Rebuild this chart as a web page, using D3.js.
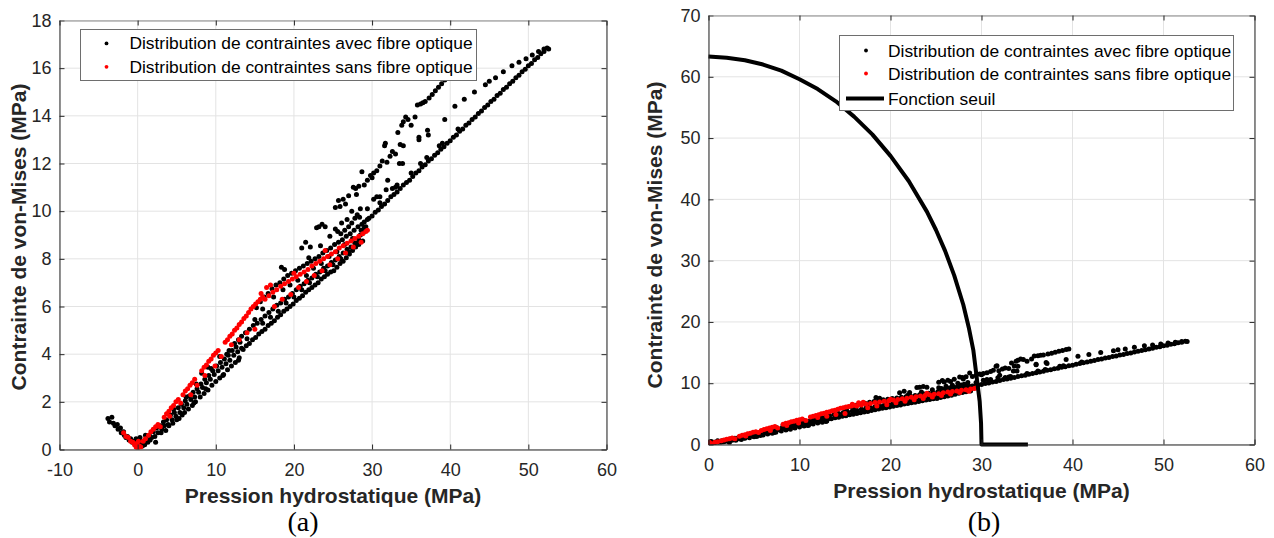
<!DOCTYPE html>
<html><head><meta charset="utf-8">
<script src="https://cdn.jsdelivr.net/npm/d3@7"></script>
<style>body{margin:0;background:#fff} svg{display:block}</style>
</head><body><svg id="c" width="1274" height="538"></svg>
<script>
// ---- DATA ----
const avecFibre = [
[-3.8,1.3],[-3.3,1.35],[-3.6,1.15],[-3.1,1.1],[-2.9,1.0],[-2.6,1.05],[-2.5,0.85],[-2.2,0.9],[-2.1,0.7],[-1.8,0.75],[-1.7,0.6],[-1.5,0.5],[-1.3,0.55],[-1.1,0.4],[-0.9,0.45],[-0.7,0.3],[-0.5,0.35],[-0.3,0.2],[-0.1,0.25],[0.1,0.15],[0.3,0.5],[0.5,0.35],[0.2,0.4],[-0.2,0.45],[0.6,0.15],
[0.4,0.2],[0.7,0.35],[0.9,0.2],[1.1,0.45],[1.3,0.3],[1.5,0.6],[1.8,0.5],[2.0,0.75],[2.3,0.3],[2.4,0.9],[2.6,0.7],[2.9,1.0],[3.1,0.85],[3.3,1.15],[3.6,0.8],[3.7,1.25],[3.9,1.05],[4.2,1.45],[4.4,1.25],[4.7,1.55],[4.9,1.4],[5.2,1.75],[5.4,1.55],[5.6,1.9],[5.9,1.75],[6.1,2.05],[6.3,1.9],[6.6,2.25],[6.8,2.1],[7.1,2.4],[7.3,2.2],[7.6,2.55],[7.8,2.4],[8.1,2.75],[8.3,2.6],[8.6,2.95],[8.8,2.8],[9.1,3.1],[9.3,2.95],[9.6,3.3],[9.8,3.15],[10.1,3.5],[10.3,3.3],[10.6,3.65],[10.8,3.45],[11.1,3.8],[11.3,3.6],[11.6,3.95],[11.8,3.75],[12.1,4.15],[12.3,3.95],[12.6,4.3],[12.8,4.1],[13.1,4.5],[13.3,4.25],
[8.2,3.2],[9.0,3.45],[10.5,3.9],[11.7,4.15],[12.4,4.45],[5.3,1.3],[7.4,2.0],
[3.0,0.7],[4.0,1.0],[5.0,1.25],[6.0,1.55],[7.0,1.85],[8.0,2.2],[9.0,2.5],[10.0,2.85],[11.0,3.15],[12.0,3.5],[13.0,3.85],[6.5,1.7],[8.5,2.35],[10.5,3.0],[12.5,3.65],
[1.0,0.6],[1.6,0.4],[2.2,0.55],[2.7,0.95],[3.4,1.0],[4.5,1.1],[4.6,1.7],[5.7,1.45],[6.2,2.2],[7.2,1.95],[7.5,2.75],[8.7,2.55],[9.5,2.7],[9.4,3.4],[10.9,3.1],[11.4,4.0],[11.5,3.35],[12.9,3.75],[12.9,4.6],
[13.5,4.2],[13.9,4.35],[14.3,4.45],[14.7,4.6],[15.1,4.7],[15.5,4.85],[15.9,4.95],[16.3,5.05],[16.7,5.2],[17.1,5.3],[17.5,5.4],[17.9,5.55],[18.3,5.65],[18.7,5.8],[19.1,5.9],[19.5,6.0],[19.9,6.1],[20.3,6.25],[20.7,6.35],[21.1,6.45],[21.5,6.6],[21.9,6.7],[22.3,6.8],[22.7,6.9],[23.1,7.0],[23.5,7.15],[23.9,7.25],[24.3,7.35],[24.7,7.45],[25.1,7.5],[25.5,7.65],[25.9,7.8],[26.3,7.9],[26.7,8.05],[27.1,8.2],[27.5,8.35],[27.9,8.5],[28.3,8.6],
[13.3,4.75],[13.8,4.9],[14.3,5.05],[14.8,5.2],[15.3,5.3],[15.8,5.45],[16.3,5.6],[16.8,5.75],[17.3,5.9],[17.8,6.05],[18.3,6.15],[18.8,6.3],[19.3,6.4],[19.8,6.55],[20.3,6.7],[20.8,6.85],[21.3,6.95],[21.8,7.1],[22.3,7.2],[22.8,7.35],[23.3,7.45],[23.8,7.6],[24.3,7.7],[24.8,7.85],[25.3,7.95],[25.8,8.1],[26.3,8.25],[26.8,8.4],[27.3,8.5],[27.8,8.65],[28.3,8.8],
[15.2,5.95],[15.7,6.2],[16.2,6.4],[16.7,6.55],[17.2,6.75],[17.7,6.9],[18.2,7.0],[18.7,7.15],[19.2,7.3],[19.7,7.4],[20.2,7.5],[20.7,7.6],[21.2,7.7],[21.7,7.8],[22.2,7.9],[22.7,8.0],[23.2,8.1],[23.7,8.25],[24.2,8.35],[24.7,8.45],[25.2,8.6],[25.7,8.7],[26.2,8.8],[26.7,8.95],[27.2,9.05],[27.7,9.2],[28.2,9.35],[28.7,9.45],[29.0,9.55],
[14.0,4.65],[15.0,5.45],[16.0,5.3],[16.0,5.9],[17.0,5.55],[17.4,6.4],[18.0,5.8],[18.6,6.7],[19.0,6.15],[19.5,6.9],[20.0,6.4],[20.5,7.1],[21.0,6.7],[21.6,7.3],[22.0,7.0],[22.5,7.6],[23.0,7.25],[23.5,7.8],[24.0,7.5],[24.5,8.1],[25.0,7.75],[25.5,8.3],[26.0,8.0],[26.5,8.6],[27.0,8.3],[27.5,8.85],[28.0,8.65],[28.5,9.0],[29.0,9.3],[28.8,8.75],
[27.4,9.5],[27.8,9.7],[28.1,9.85],[28.4,9.75],[28.6,9.2],[28.9,9.1],[29.2,9.35],[29.4,9.65],[27.0,9.35],[26.5,9.2],[26.0,9.05],[25.6,9.15],
[18.4,7.65],[18.8,7.55],[21.0,8.45],[21.5,8.7],[21.9,8.05],[22.1,8.5],[22.9,9.3],[23.2,9.35],[23.6,9.45],[24.0,9.35],[23.4,8.55],[24.6,8.95],[25.3,9.25],[26.1,9.5],[26.8,9.65],
[25.3,10.15],[25.7,10.45],[25.9,10.2],[26.3,10.5],[26.6,10.3],[27.0,10.65],[27.4,10.0],[27.9,10.95],[28.3,11.05],[28.5,10.1],[28.7,11.65],[29.0,11.1],[29.4,11.3],[29.4,10.1],[29.8,11.5],[30.2,10.5],[30.2,11.6],[30.6,11.7],[30.6,10.6],[31.0,10.6],[31.0,11.9],[31.3,12.1],[31.6,12.75],[31.7,12.85],[31.8,10.9],[31.9,12.05],[32.3,12.3],[32.6,10.95],[32.6,12.5],[33.0,12.4],[33.2,11.1],[33.5,12.0],[33.6,12.8],[33.9,12.0],[34.0,12.75],[33.3,13.3],[33.8,13.6],[34.0,13.75],[34.3,13.95],[34.6,13.85],[35.0,13.6],[35.5,13.95],[35.8,14.45],[36.0,13.0],[36.2,14.5],[36.5,14.55],[36.8,14.6],[37.2,13.2],[37.3,14.75],[37.7,14.9],[38.1,15.05],[38.5,15.2],[38.9,15.35],[39.3,15.5],[39.6,15.6],[32.0,11.3],[30.0,11.4],[28.0,10.7],[27.6,11.0],
[29.6,9.7],[30.0,9.8],[30.4,9.95],[30.8,10.05],[31.2,10.2],[31.6,10.3],[32.0,10.45],[32.4,10.6],[32.8,10.7],[33.2,10.8],[33.6,10.95],[34.0,11.1],[34.4,11.2],[34.8,11.3],[35.2,11.45],[35.6,11.6],[36.0,11.7],[36.4,11.85],[36.8,11.95],[37.2,12.1],[37.6,12.2],[38.0,12.35],[38.4,12.45],[38.8,12.6],[39.2,12.7],[39.6,12.85],[40.0,12.95],[40.4,13.1],[40.8,13.2],[41.2,13.35],[41.6,13.45],[42.0,13.6],[42.4,13.7],[42.8,13.85],[43.2,13.95],[43.6,14.1],[44.0,14.2],[44.4,14.35],[44.8,14.45],[45.2,14.6],[45.6,14.7],[46.0,14.85],[46.4,14.95],[46.8,15.1],[47.2,15.2],[47.6,15.35],[48.0,15.45],[48.4,15.6],[48.8,15.7],[49.2,15.85],[49.6,15.95],[50.0,16.1],[50.4,16.2],[50.8,16.35],[51.2,16.45],[51.6,16.6],[52.0,16.7],[52.4,16.85],[52.6,16.8],
[31.0,10.35],[33.0,11.0],[35.0,11.6],[37.0,12.25],[39.0,12.85],[41.0,13.45],[36.2,12.0],[38.6,12.75],
[39.3,13.85],[40.6,14.4],[41.8,14.7],[43.1,15.0],[44.5,15.3],[45.0,15.45],[45.8,15.6],[46.8,15.85],[47.9,16.1],[48.8,16.25],[49.7,16.4],[50.5,16.55],[51.3,16.7],[52.0,16.8],[37.1,13.4],[36.0,13.1]
];
const sansFibre = [
[-1.8,0.7],[-1.5,0.55],[-1.2,0.5],[-0.9,0.35],[-0.6,0.3],[-0.4,0.2],[-0.2,0.1],[0.0,0.05],[0.2,0.15],[0.4,0.1],[0.1,0.35],[-0.1,0.25],
[0.7,0.35],[1.0,0.45],[1.4,0.6],[1.7,0.75],[2.0,0.85],[2.3,0.95],[2.6,1.05],[3.4,1.35],[3.7,1.5],[4.0,1.6],[4.3,1.75],[4.6,1.85],[4.9,2.0],[5.2,2.1],[5.8,2.3],[6.1,2.45],[6.4,2.55],[6.7,2.7],[7.0,2.8],[7.3,2.95],[8.2,3.3],[8.5,3.45],[8.8,3.55],[9.1,3.7],[9.4,3.8],[9.7,3.95],[10.0,4.05],[10.3,4.15],[11.2,4.5],[11.5,4.6],[11.8,4.75],[12.1,4.85],[12.4,5.0],[12.7,5.1],[13.0,5.25],[13.3,5.35],[13.6,5.5],[13.9,5.6],[14.2,5.75],[14.5,5.9],[14.8,6.0],[15.1,6.1],[15.4,6.2],[15.7,6.3],[16.0,6.4],
[2.9,0.95],[5.5,1.95],[7.6,2.7],[9.9,3.5],[10.7,3.9],[12.0,4.4],[13.0,4.6],[14.0,4.9],[15.0,5.05],[6.8,2.3],[4.1,1.4],[8.6,3.1],
[16.3,6.3],[16.8,6.45],[17.3,6.6],[17.8,6.7],[18.3,6.85],[18.8,6.95],[19.3,7.05],[19.8,7.15],[20.3,7.25],[20.8,7.35],[21.3,7.45],[21.8,7.55],[22.3,7.7],[22.8,7.8],[23.3,7.9],[23.8,8.0],[24.3,8.1],[24.8,8.2],[25.3,8.3],[25.8,8.45],[26.3,8.55],[26.8,8.65],[27.3,8.75],[27.8,8.85],[28.3,8.95],[28.8,9.05],[29.2,9.15],[29.4,9.2],
[17.5,6.0],[18.5,6.3],[19.6,6.5],[20.6,6.8],[21.6,7.05],[22.6,7.3],[23.6,7.5],[24.6,7.75],[25.6,8.0],[26.6,8.25],[27.6,8.5],[28.6,8.7],[17.0,6.9],[15.8,6.55],[16.5,6.8],[20.0,7.4],[24.0,8.35]
];
const seuilX = [0,2,4,6,8,10,12,14,16,18,20,22,24,25,26,27,28,28.6,29.1,29.5,29.8,29.95,30.0,35.1];
const seuilY = [63.3,63.1,62.7,62.0,61.0,59.6,58.0,56.0,53.5,50.6,47.1,43.0,38.0,35.0,31.6,27.6,22.8,19.1,15.4,10.6,7.0,3.5,0,0];
const legendLabels = ["Distribution de contraintes avec fibre optique","Distribution de contraintes sans fibre optique","Fonction seuil"];
const xTicksA = [-10,0,10,20,30,40,50,60];
const yTicksA = [0,2,4,6,8,10,12,14,16,18];
const xTicksB = [0,10,20,30,40,50,60];
const yTicksB = [0,10,20,30,40,50,60,70];
const xTitle = "Pression hydrostatique (MPa)";
const yTitle = "Contrainte de von-Mises (MPa)";
const captions = ["(a)","(b)"];

// ---- DRAW ----
const FONT = '"Liberation Sans", Arial, Helvetica, sans-serif';
const svg = d3.select('#c');
svg.append('rect').attr('width',1274).attr('height',538).attr('fill','#fff');
const defs = svg.append('defs');

function panel(o){
  const x = d3.scaleLinear().domain(o.xDomain).range([o.left,o.right]);
  const y = d3.scaleLinear().domain(o.yDomain).range([o.bottom,o.top]);
  const g = svg.append('g');
  g.append('g').selectAll('line').data(o.xTicks).join('line')
    .attr('x1',d=>x(d)).attr('x2',d=>x(d)).attr('y1',o.top).attr('y2',o.bottom)
    .attr('stroke','#e3e3e3').attr('stroke-width',1);
  g.append('g').selectAll('line').data(o.yTicks).join('line')
    .attr('y1',d=>y(d)).attr('y2',d=>y(d)).attr('x1',o.left).attr('x2',o.right)
    .attr('stroke','#e3e3e3').attr('stroke-width',1);
  defs.append('clipPath').attr('id','clip'+o.id).append('rect')
    .attr('x',o.left).attr('y',o.top).attr('width',o.right-o.left).attr('height',o.bottom-o.top);
  const pts = g.append('g').attr('clip-path',`url(#clip${o.id})`);
  pts.append('g').selectAll('circle').data(avecFibre).join('circle')
    .attr('cx',d=>x(d[0])).attr('cy',d=>y(d[1])).attr('r',2.5).attr('fill','#000');
  pts.append('g').selectAll('circle').data(sansFibre).join('circle')
    .attr('cx',d=>x(d[0])).attr('cy',d=>y(d[1])).attr('r',2.5).attr('fill','#ff0000');
  if(o.seuil){
    g.append('path').datum(d3.range(seuilX.length))
      .attr('d', d3.line().x(i=>x(seuilX[i])).y(i=>y(seuilY[i])))
      .attr('fill','none').attr('stroke','#000').attr('stroke-width',4).attr('stroke-linejoin','round');
  }
  const col = '#262626';
  const styleAxis = sel => { sel.attr('font-family',FONT).attr('font-size',18).attr('color',col);
    sel.select('.domain').attr('stroke',col); };
  const bx = g.append('g').attr('transform',`translate(0,${o.bottom})`)
    .call(d3.axisBottom(x).tickValues(o.xTicks).tickSize(-5).tickSizeOuter(0).tickFormat(d=>String(d)));
  styleAxis(bx); bx.selectAll('text').attr('y',26.5).attr('dy',0);
  const ly = g.append('g').attr('transform',`translate(${o.left},0)`)
    .call(d3.axisLeft(y).tickValues(o.yTicks).tickSize(-5).tickSizeOuter(0).tickPadding(8).tickFormat(d=>String(d)));
  styleAxis(ly);
  const tx = g.append('g').attr('transform',`translate(0,${o.top})`)
    .call(d3.axisTop(x).tickValues(o.xTicks).tickSize(-5).tickSizeOuter(0).tickFormat(''));
  styleAxis(tx); tx.select('.domain').attr('stroke','#8a8a8a');
  const ry = g.append('g').attr('transform',`translate(${o.right},0)`)
    .call(d3.axisRight(y).tickValues(o.yTicks).tickSize(-5).tickSizeOuter(0).tickFormat(''));
  styleAxis(ry);
  g.append('text').attr('x',(o.left+o.right)/2).attr('y',o.bottom+53).attr('text-anchor','middle')
    .attr('font-family',FONT).attr('font-weight','bold').attr('font-size',21).attr('fill',col).text(xTitle);
  g.append('text').attr('transform',`translate(${o.ylabX},${o.ylabY}) rotate(-90)`)
    .attr('text-anchor','middle').attr('dominant-baseline','central')
    .attr('font-family',FONT).attr('font-weight','bold').attr('font-size',21).attr('fill',col).text(yTitle);
  const L = o.legend;
  const lg = g.append('g');
  lg.append('rect').attr('x',L.x).attr('y',L.y).attr('width',L.w).attr('height',L.h)
    .attr('fill','#fff').attr('stroke','#6e6e6e').attr('stroke-width',1);
  const n = o.seuil ? 3 : 2;
  const colors = ['#000','#ff0000'];
  for(let i=0;i<n;i++){
    const cy = L.rows[i];
    if(i<2) lg.append('circle').attr('cx',L.mx).attr('cy',cy).attr('r',1.9).attr('fill',colors[i]);
    else lg.append('line').attr('x1',L.lx1).attr('x2',L.lx2).attr('y1',cy).attr('y2',cy).attr('stroke','#000').attr('stroke-width',4);
    lg.append('text').attr('x',L.tx).attr('y',cy).attr('dominant-baseline','central')
      .attr('font-family',FONT).attr('font-size',17.4).attr('fill','#000').text(legendLabels[i]);
  }
  svg.append('text').attr('x',o.capX).attr('y',o.capY).attr('text-anchor','middle')
    .attr('font-family','"Liberation Serif", "Times New Roman", serif').attr('font-size',28).attr('fill','#000').text(o.caption);
}

panel({id:'a', xDomain:[-10,60], yDomain:[0,18], left:59.5, right:606.5, top:20.5, bottom:449.5,
  xTicks:xTicksA, yTicks:yTicksA, seuil:false, ylabX:18, ylabY:237,
  legend:{x:80.5,y:29.5,w:396,h:51,rows:[43.4,66.8],mx:106.5,tx:129.4},
  caption:captions[0], capX:303, capY:531});
panel({id:'b', xDomain:[0,60], yDomain:[0,70], left:708.5, right:1254.5, top:15.5, bottom:444.5,
  xTicks:xTicksB, yTicks:yTicksB, seuil:true, ylabX:654, ylabY:235,
  legend:{x:839.5,y:35.5,w:394,h:75,rows:[50.5,73.5,98.5],mx:866,lx1:846,lx2:884,tx:888},
  caption:captions[1], capX:984, capY:531});
</script>
</body></html>
